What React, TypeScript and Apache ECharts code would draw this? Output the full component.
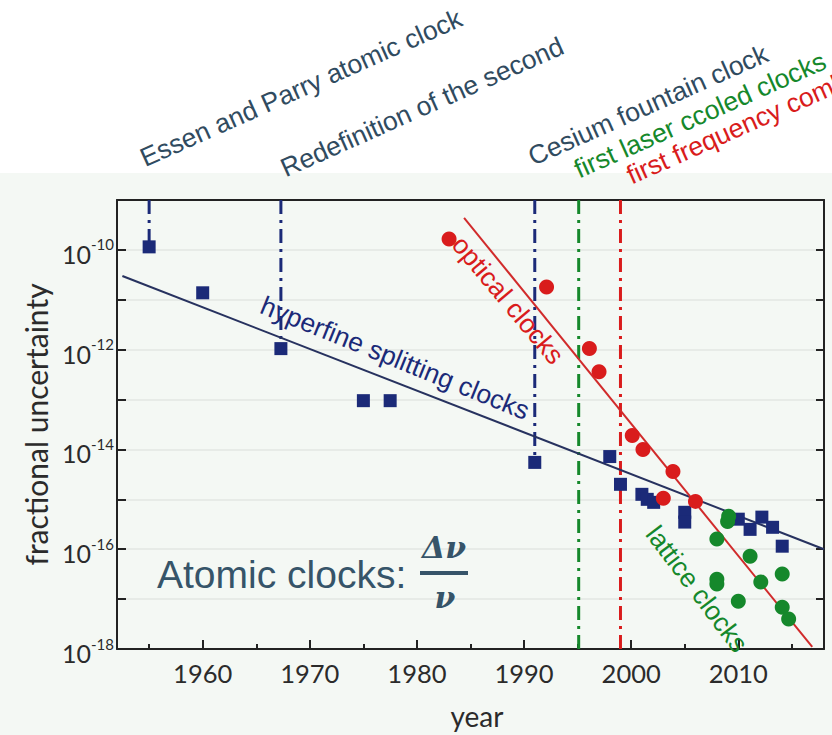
import React, { useEffect, useRef } from "react";
import * as echarts from "echarts";

// ---- data ----
const majorYears = [1960, 1970, 1980, 1990, 2000, 2010];
const minorYears = [1955, 1965, 1975, 1985, 1995, 2005, 2015];

const hyperfineYears = [1955, 1960, 1967.3, 1975, 1977.5, 1991, 1998, 1999, 2001, 2001.5, 2002.1, 2005, 2005, 2010, 2011.1, 2012.2, 2013.2, 2014.1];
const hyperfineValues = [1.15e-10, 1.38e-11, 1.05e-12, 9.5e-14, 9.5e-14, 5.5e-15, 7.2e-15, 2.0e-15, 1.26e-15, 1.0e-15, 8.7e-16, 5.5e-16, 3.5e-16, 4.0e-16, 2.5e-16, 4.4e-16, 2.75e-16, 1.15e-16];

const opticalYears = [1983, 1992.1, 1996.1, 1997, 2000.1, 2001.1, 2003, 2003.9, 2006];
const opticalValues = [1.66e-10, 1.8e-11, 1.05e-12, 3.6e-13, 1.9e-14, 1.0e-14, 1.05e-15, 3.6e-15, 9.1e-16];

const latticeYears = [2008, 2008, 2008, 2009, 2009.1, 2010, 2011.1, 2012.1, 2014.1, 2014.1, 2014.7];
const latticeValues = [1.6e-16, 2.5e-17, 2.0e-17, 3.6e-16, 4.6e-16, 9.1e-18, 7.2e-17, 2.2e-17, 3.2e-17, 6.9e-18, 4.0e-18];

const hyperfineTrendYears = [1952.5, 2018];
const hyperfineTrendValues = [3.0e-11, 1.0e-16];
const opticalTrendYears = [1984.4, 2016.9];
const opticalTrendValues = [4.4e-10, 1.1e-18];

const milestoneYears = [1955, 1967.3, 1991, 1995.1, 1999];
const milestoneEnds = [1.15e-10, 1.05e-12, 5.5e-15, 1e-18, 1e-18];
const milestoneLabels = [
  "Essen and Parry atomic clock",
  "Redefinition of the second",
  "Cesium fountain clock",
  "first laser ccoled clocks",
  "first frequency comb",
];

const Y_MIN = 1e-18;
const Y_MAX = 1e-9;

const NAVY = "#1b2a78";
const RED = "#d91c1c";
const GREEN = "#15882b";
const SLATE = "#304b5f";
const AXIS = "#222222";
const TXT = "#2b2b2b";

const zip = (xs: number[], ys: number[]) => xs.map((x, i) => [x, ys[i]]);

export default function App() {
  const ref = useRef<HTMLDivElement>(null);

  useEffect(() => {
    if (!ref.current) return;
    const chart = echarts.init(ref.current, null, { renderer: "svg" });

    const milestoneColors = [NAVY, NAVY, NAVY, GREEN, RED];
    const milestoneSeries = milestoneYears.map((yr, i) => ({
      type: "line",
      data: [
        [yr, Y_MAX],
        [yr, milestoneEnds[i]],
      ],
      showSymbol: false,
      symbol: "none",
      z: 2,
      lineStyle: { color: milestoneColors[i], width: 3, type: [14, 6, 3, 6] },
      silent: true,
    }));

    const deg = (d: number) => (d * Math.PI) / 180;
    const annoText = (
      text: string,
      x: number,
      y: number,
      rotDeg: number,
      color: string,
      fontSize = 26.5
    ) => ({
      type: "text",
      x,
      y,
      rotation: deg(rotDeg),
      silent: true,
      z: 50,
      style: {
        text,
        fill: color,
        fontSize,
        fontFamily: "Liberation Sans, Arial, sans-serif",
        align: "center",
        verticalAlign: "middle",
        textAlign: "center",
        textVerticalAlign: "middle",
      },
    });

    const topColors = [SLATE, SLATE, SLATE, GREEN, RED];
    const topCenters = [
      [301, 88],
      [422, 107],
      [648, 105],
      [700, 115],
      [737, 128],
    ];

    const option: any = {
      animation: false,
      backgroundColor: "#ffffff",
      grid: { left: 117, right: 8, top: 200, bottom: 86, show: false },
      xAxis: [
        {
          type: "value",
          min: 1952,
          max: 2018,
          position: "bottom",
          axisLine: { show: true, onZero: false, lineStyle: { color: AXIS, width: 2 } },
          axisTick: { show: true, inside: true, length: 9, customValues: majorYears, lineStyle: { color: AXIS, width: 2 } },
          axisLabel: {
            customValues: majorYears,
            margin: 11,
            fontFamily: "Lato",
            fontSize: 25.5,
            color: TXT,
            formatter: (v: number) => String(v),
          },
          splitLine: { show: false },
          name: "year",
          nameLocation: "middle",
          nameGap: 53,
          nameTextStyle: { fontFamily: "Lato", fontSize: 28, color: TXT, padding: [0, 0, 0, 13] },
        },
        {
          type: "value",
          min: 1952,
          max: 2018,
          position: "bottom",
          axisLine: { show: false },
          axisTick: { show: true, inside: true, length: 5, customValues: minorYears, lineStyle: { color: AXIS, width: 2 } },
          axisLabel: { show: false },
          splitLine: { show: false },
        },
        {
          type: "value",
          min: 1952,
          max: 2018,
          position: "top",
          axisLine: { show: true, onZero: false, lineStyle: { color: AXIS, width: 2 } },
          axisTick: { show: false },
          axisLabel: { show: false },
          splitLine: { show: false },
        },
      ],
      yAxis: [
        {
          type: "log",
          logBase: 10,
          min: Y_MIN,
          max: Y_MAX,
          splitNumber: 9,
          interval: 1,
          position: "left",
          axisLine: { show: true, onZero: false, lineStyle: { color: AXIS, width: 2 } },
          axisTick: { show: true, inside: true, length: 9, lineStyle: { color: AXIS, width: 2 } },
          axisLabel: {
            margin: 3,
            formatter: (v: number) => {
              const e = Math.round(Math.log10(v));
              if (e % 2 !== 0) return "";
              return "{b|10}{s|" + e + "}";
            },
            rich: {
              b: { fontFamily: "Lato", fontSize: 25, color: TXT, lineHeight: 26, padding: [8, 0, 0, 0] },
              s: { fontFamily: "Lato", fontSize: 15, color: TXT, verticalAlign: "top", lineHeight: 14 },
            },
          },
          splitLine: { show: true, lineStyle: { color: "#e3e7e3", width: 1.5 } },
          name: "fractional uncertainty",
          nameLocation: "middle",
          nameGap: 66,
          nameTextStyle: { fontFamily: "Lato", fontSize: 30, color: TXT },
        },
        {
          type: "log",
          logBase: 10,
          min: Y_MIN,
          max: Y_MAX,
          splitNumber: 9,
          interval: 1,
          position: "right",
          axisLine: { show: true, onZero: false, lineStyle: { color: AXIS, width: 2 } },
          axisTick: { show: true, inside: true, length: 8, lineStyle: { color: AXIS, width: 2 } },
          axisLabel: { show: false },
          splitLine: { show: false },
        },
      ],
      series: [
        ...milestoneSeries,
        {
          type: "line",
          data: zip(hyperfineTrendYears, hyperfineTrendValues),
          showSymbol: false,
          symbol: "none",
          z: 3,
          lineStyle: { color: "#27325f", width: 2 },
          silent: true,
        },
        {
          type: "line",
          data: zip(opticalTrendYears, opticalTrendValues),
          showSymbol: false,
          symbol: "none",
          z: 3,
          lineStyle: { color: "#d12b2b", width: 2 },
          silent: true,
        },
        {
          type: "scatter",
          name: "hyperfine",
          data: zip(hyperfineYears, hyperfineValues),
          symbol: "rect",
          symbolSize: 13,
          z: 4,
          itemStyle: { color: NAVY, opacity: 1 },
        },
        {
          type: "scatter",
          name: "optical",
          data: zip(opticalYears, opticalValues),
          symbol: "circle",
          symbolSize: 15,
          z: 4,
          itemStyle: { color: RED, opacity: 1 },
        },
        {
          type: "scatter",
          name: "lattice",
          data: zip(latticeYears, latticeValues),
          symbol: "circle",
          symbolSize: 15,
          z: 4,
          itemStyle: { color: GREEN, opacity: 1 },
        },
      ],
      graphic: [
        {
          type: "rect",
          shape: { x: 0, y: 173, width: 832, height: 562 },
          style: { fill: "#f4f8f4" },
          z: -100,
          silent: true,
        },
        ...milestoneLabels.map((t, i) =>
          annoText(t, topCenters[i][0], topCenters[i][1], 24, topColors[i])
        ),
        annoText("hyperfine splitting clocks", 395, 358, -22, NAVY),
        annoText("optical clocks", 508, 300, -50, RED),
        annoText("lattice clocks", 697, 589, -53, GREEN),
        {
          type: "text",
          x: 157,
          y: 574,
          silent: true,
          z: 50,
          style: {
            text: "Atomic clocks:",
            fill: "#365469",
            fontSize: 39,
            fontFamily: "Liberation Sans, Arial, sans-serif",
            align: "left",
            verticalAlign: "middle",
            textAlign: "left",
            textVerticalAlign: "middle",
          },
        },
        {
          type: "text",
          x: 444,
          y: 547,
          silent: true,
          z: 50,
          style: {
            text: "Δν",
            fill: "#365469",
            fontSize: 30,
            fontWeight: "bold",
            fontStyle: "italic",
            fontFamily: "DejaVu Serif, serif",
            align: "center",
            verticalAlign: "middle",
            textAlign: "center",
            textVerticalAlign: "middle",
          },
        },
        {
          type: "rect",
          shape: { x: 420, y: 571, width: 48, height: 4 },
          style: { fill: "#365469" },
          z: 50,
          silent: true,
        },
        {
          type: "text",
          x: 445,
          y: 597,
          silent: true,
          z: 50,
          style: {
            text: "ν",
            fill: "#365469",
            fontSize: 30,
            fontWeight: "bold",
            fontStyle: "italic",
            fontFamily: "DejaVu Serif, serif",
            align: "center",
            verticalAlign: "middle",
            textAlign: "center",
            textVerticalAlign: "middle",
          },
        },
      ],
    };

    chart.setOption(option);
    return () => chart.dispose();
  }, []);

  return (
    <div
      ref={ref}
      style={{ position: "fixed", left: 0, top: 0, width: 832, height: 735, background: "#ffffff" }}
    />
  );
}
